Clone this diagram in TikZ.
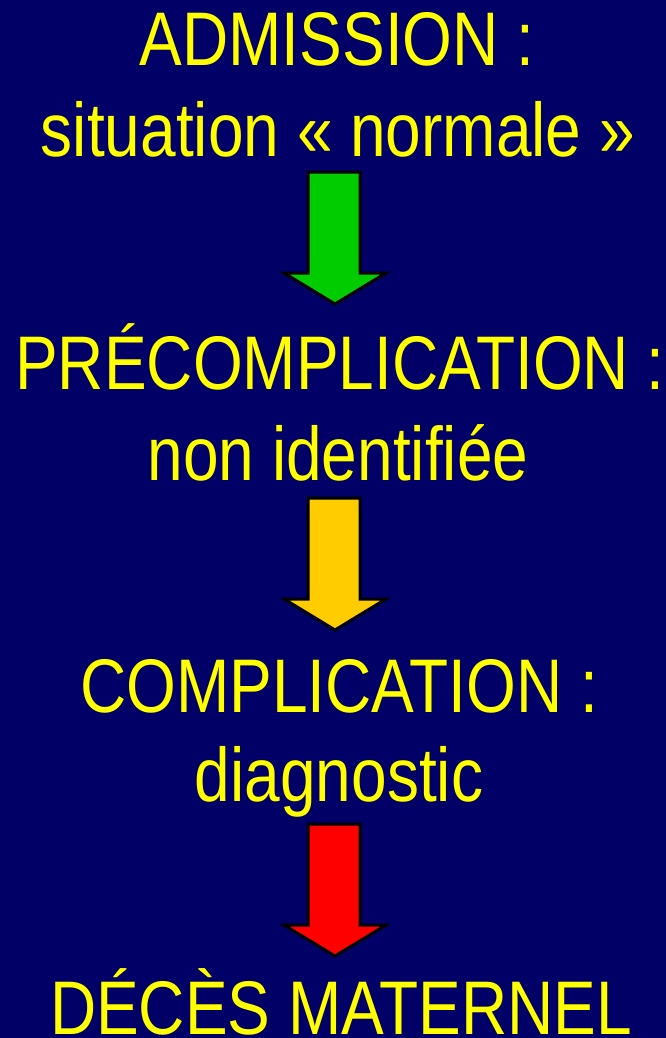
\documentclass[tikz,border=0pt]{standalone}
\usepackage{fontspec}
\setmainfont[FakeStretch=0.842]{Liberation Sans}
\definecolor{fond}{RGB}{0,0,102}
\definecolor{jaune}{RGB}{255,255,0}
\definecolor{vert}{RGB}{0,204,0}
\definecolor{ambre}{RGB}{255,204,0}
\definecolor{rouge}{RGB}{255,0,0}
\tikzset{
  texte/.style={text=jaune, font=\fontsize{76}{90}\selectfont, anchor=base, inner sep=0pt},
  fleche/.style={draw=black, line width=3pt, line join=miter}
}
\begin{document}
\begin{tikzpicture}[x=1pt,y=1pt]
    % Fond bleu nuit
    \fill[fond] (0,0) rectangle (666,-1038);
    \useasboundingbox (0,0) rectangle (666,-1038);

    % Étapes
    \node[texte] (admission) at (337,-66) {ADMISSION :};
    \node[texte] (normale) at (338,-157) {situation «~normale~»};
    \node[texte] (precompl) at (340,-389) {PRÉCOMPLICATION :};
    \node[texte] (nonident) at (338,-480) {non identifiée};
    \node[texte] (compl) at (339,-712) {COMPLICATION :};
    \node[texte] (diag) at (339,-801) {diagnostic};
    \node[texte] (deces) at (341,-1034) {DÉCÈS MATERNEL};

    % Flèches
    \foreach \couleur/\haut in {vert/172, ambre/498, rouge/824} {
        \draw[fleche, fill=\couleur] (308,-\haut) -- (360,-\haut) -- (360,-\haut-101)
            -- (386,-\haut-101) -- (335,-\haut-132) -- (284,-\haut-101) -- (308,-\haut-101) -- cycle;
    }
\end{tikzpicture}
\end{document}
